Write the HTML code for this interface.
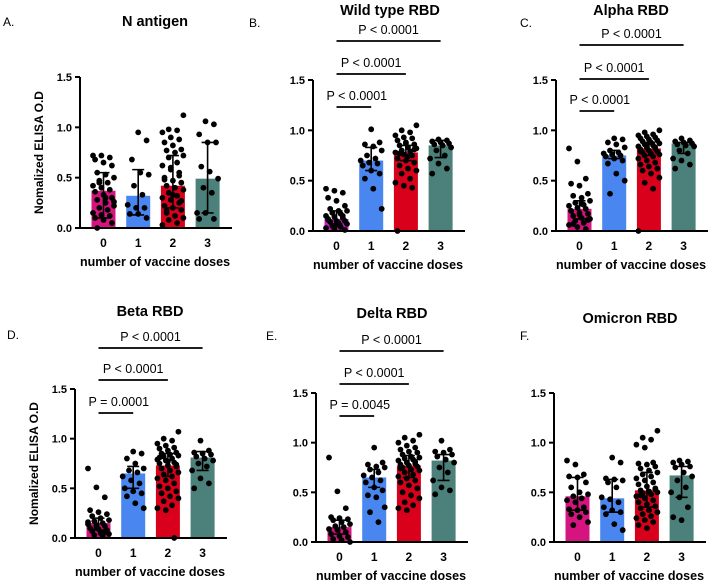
<!DOCTYPE html>
<html><head><meta charset="utf-8"><style>
html,body{margin:0;padding:0;background:#fff;}
svg{display:block;font-family:"Liberation Sans",Arial,sans-serif;}
</style></head><body>
<svg id="fig" width="708" height="580" viewBox="0 0 708 580"></svg>
<script>
const categories = ["0","1","2","3"];
const yTicks = [0, 0.5, 1.0, 1.5];
const yTickLabels = ["0.0","0.5","1.0","1.5"];
const colors = ["#d5147f","#4a86f0","#d9001b","#4b807b"];

const aMeans=[0.37,0.32,0.42,0.49], aLo=[0.10,0.13,0.20,0.15], aHi=[0.55,0.58,0.72,0.85];
const aPoints=[
[0.72,0.72,0.70,0.68,0.65,0.62,0.55,0.53,0.50,0.47,0.45,0.42,0.40,0.38,0.36,0.33,0.30,0.28,0.25,0.22,0.20,0.18,0.15,0.13,0.12,0.10,0.08,0.05,0.00,0.30,0.26,0.45],
[0.95,0.87,0.68,0.55,0.53,0.42,0.33,0.23,0.20,0.20,0.14,0.14,0.10],
[1.12,0.98,0.97,0.95,0.90,0.88,0.85,0.82,0.78,0.77,0.75,0.72,0.70,0.65,0.62,0.58,0.55,0.50,0.47,0.45,0.42,0.40,0.38,0.35,0.32,0.30,0.28,0.25,0.22,0.20,0.18,0.15,0.12,0.10,0.08,0.05,0.03,0.60,0.52,0.48,0.33,0.27,0.17],
[1.06,1.03,0.93,0.85,0.85,0.61,0.56,0.49,0.40,0.35,0.15,0.15,0.09,0.09]];

const bMeans=[0.12,0.70,0.78,0.85], bLo=[0.07,0.60,0.70,0.73], bHi=[0.20,0.83,0.85,0.90];
const bPoints=[
[0.42,0.40,0.38,0.33,0.30,0.25,0.22,0.20,0.20,0.18,0.17,0.15,0.14,0.13,0.12,0.10,0.10,0.09,0.08,0.07,0.05,0.04,0.03,0.02,0.15,0.11,0.06,0.01],
[1.01,0.88,0.86,0.84,0.80,0.75,0.72,0.70,0.68,0.67,0.65,0.60,0.57,0.52,0.42,0.22],
[1.05,1.00,0.98,0.95,0.93,0.92,0.90,0.88,0.86,0.85,0.83,0.82,0.80,0.79,0.78,0.76,0.75,0.72,0.70,0.68,0.65,0.62,0.60,0.57,0.52,0.48,0.45,0.43,0.00,0.87,0.81,0.77,0.74],
[0.91,0.90,0.89,0.88,0.87,0.86,0.85,0.83,0.80,0.75,0.72,0.67,0.62,0.57]];

const cMeans=[0.22,0.75,0.82,0.87], cLo=[0.12,0.72,0.75,0.77], cHi=[0.30,0.80,0.88,0.88];
const cPoints=[
[0.82,0.69,0.52,0.47,0.45,0.37,0.35,0.33,0.30,0.28,0.26,0.25,0.23,0.22,0.20,0.18,0.17,0.15,0.13,0.12,0.10,0.08,0.06,0.04,0.02,0.20,0.16,0.11,0.07,0.27],
[0.92,0.91,0.88,0.86,0.83,0.80,0.78,0.77,0.76,0.75,0.74,0.72,0.70,0.67,0.57,0.50,0.37],
[1.00,0.98,0.96,0.95,0.94,0.93,0.92,0.91,0.90,0.89,0.88,0.87,0.86,0.85,0.84,0.83,0.82,0.81,0.80,0.79,0.78,0.77,0.76,0.75,0.74,0.72,0.70,0.68,0.66,0.64,0.62,0.60,0.57,0.53,0.48,0.42,0.00,0.85,0.83,0.79],
[0.92,0.90,0.89,0.88,0.87,0.86,0.85,0.84,0.80,0.77,0.72,0.70,0.66,0.62]];

const dMeans=[0.15,0.65,0.73,0.81], dLo=[0.08,0.50,0.62,0.68], dHi=[0.20,0.72,0.85,0.87];
const dPoints=[
[0.70,0.51,0.41,0.28,0.26,0.24,0.22,0.20,0.18,0.17,0.15,0.14,0.13,0.12,0.10,0.09,0.08,0.07,0.05,0.04,0.03,0.02,0.16,0.11,0.06],
[0.87,0.85,0.80,0.75,0.70,0.68,0.66,0.62,0.58,0.55,0.50,0.47,0.45,0.42,0.35,0.30],
[1.07,1.00,0.98,0.95,0.93,0.91,0.90,0.88,0.86,0.85,0.84,0.83,0.82,0.80,0.79,0.78,0.76,0.75,0.73,0.72,0.70,0.68,0.66,0.64,0.62,0.60,0.58,0.55,0.52,0.50,0.47,0.45,0.42,0.40,0.37,0.33,0.30,0.28,0.00,0.81,0.77,0.74],
[0.98,0.88,0.86,0.85,0.84,0.82,0.80,0.78,0.75,0.72,0.68,0.60,0.55,0.50]];

const eMeans=[0.15,0.65,0.77,0.82], eLo=[0.08,0.55,0.65,0.62], eHi=[0.22,0.73,0.87,0.88];
const ePoints=[
[0.85,0.51,0.34,0.25,0.24,0.23,0.22,0.20,0.18,0.16,0.15,0.13,0.12,0.10,0.08,0.06,0.05,0.03,0.02,0.00],
[0.95,0.80,0.78,0.76,0.75,0.73,0.70,0.67,0.65,0.62,0.60,0.55,0.52,0.47,0.45,0.35,0.30,0.20],
[1.08,1.05,1.02,1.00,0.97,0.95,0.93,0.91,0.90,0.88,0.86,0.85,0.84,0.83,0.82,0.80,0.79,0.78,0.77,0.76,0.75,0.73,0.72,0.70,0.68,0.66,0.64,0.62,0.60,0.57,0.54,0.50,0.47,0.44,0.40,0.37,0.34,0.32,0.81,0.74],
[1.02,0.93,0.91,0.90,0.88,0.86,0.83,0.80,0.75,0.70,0.62,0.55,0.52,0.48]];

const fMeans=[0.46,0.44,0.52,0.67], fLo=[0.32,0.30,0.35,0.45], fHi=[0.65,0.63,0.70,0.76];
const fPoints=[
[0.82,0.78,0.68,0.66,0.65,0.60,0.55,0.50,0.48,0.46,0.44,0.42,0.40,0.35,0.33,0.32,0.30,0.28,0.25,0.20,0.17],
[0.85,0.80,0.64,0.63,0.62,0.60,0.55,0.45,0.43,0.40,0.35,0.32,0.30,0.28,0.18,0.12],
[1.12,1.05,1.03,0.98,0.95,0.80,0.79,0.78,0.76,0.74,0.72,0.70,0.68,0.66,0.64,0.62,0.60,0.58,0.56,0.54,0.52,0.51,0.50,0.49,0.48,0.46,0.44,0.42,0.40,0.38,0.36,0.34,0.32,0.30,0.28,0.26,0.24,0.22,0.20,0.17,0.14,0.53,0.47],
[0.82,0.81,0.80,0.78,0.76,0.75,0.70,0.66,0.62,0.55,0.50,0.45,0.35,0.25,0.22]];

const sigB=["P < 0.0001","P < 0.0001","P < 0.0001"];
const sigC=["P < 0.0001","P < 0.0001","P < 0.0001"];
const sigD=["P = 0.0001","P < 0.0001","P < 0.0001"];
const sigE=["P = 0.0045","P < 0.0001","P < 0.0001"];

const NS="http://www.w3.org/2000/svg";
const svg=document.getElementById("fig");
function mk(tag,attrs,parent){const e=document.createElementNS(NS,tag);for(const k in attrs)e.setAttribute(k,attrs[k]);(parent||svg).appendChild(e);return e;}

function panel(p){
  const g=mk("g",{});
  
  
  const ax=p.ax, y0=p.y0, ppu=(p.y0-p.y15)/1.5;
  const yScale=v=>y0-v*ppu;
  const xScale=i=>ax+23.5+i*34.7;
  // title + letter
  const t=mk("text",{x:p.tx,y:p.ty,"text-anchor":"middle","font-size":"14.5","font-weight":"bold"},g);t.textContent=p.title;
  
  
  const l=mk("text",{x:p.lx,y:p.ly,"font-size":"12"},g);l.textContent=p.letter;
  
  
  // bars
  p.means.forEach((m,i)=>{
    const r=mk("rect",{x:xScale(i)-12,y:yScale(m),width:24,height:y0-yScale(m),fill:(p.c0&&i==0)?p.c0:colors[i]},g);
    
    
  });
  // points
  p.points.forEach((arr,i)=>{
    arr.forEach((v,j)=>{
      const dx=(((j*37+i*5)%11)-5)*2.1;
      const c=mk("circle",{cx:xScale(i)+dx,cy:yScale(v),r:2.9,fill:"#000"},g);
      
      
    });
  });
  // error bars
  p.means.forEach((m,i)=>{
    const x=xScale(i);
    const e=mk("path",{d:`M${x},${yScale(p.lo[i])}V${yScale(p.hi[i])}M${x-6},${yScale(p.lo[i])}H${x+6}M${x-6},${yScale(p.hi[i])}H${x+6}`,stroke:"#000","stroke-width":1.6,fill:"none"},g);
    
    
  });
  // axes
  const xa=mk("path",{d:`M${ax},${y0}H${ax+152}`,stroke:"#000","stroke-width":2},g);
  
  
  const ya=mk("path",{d:`M${ax},${y0+1}V${p.y15}`,stroke:"#000","stroke-width":2},g);
  
  
  yTicks.forEach((v,i)=>{
    mk("path",{d:`M${ax-5},${yScale(v)}H${ax}`,stroke:"#000","stroke-width":2},g);
    const tl=mk("text",{x:ax-8,y:yScale(v)+4,"text-anchor":"end","font-size":"11","font-weight":"bold"},g);
    tl.textContent=yTickLabels[i];
    
    
  });
  categories.forEach((c,i)=>{
    const tl=mk("text",{x:xScale(i),y:y0+19,"text-anchor":"middle","font-size":"12","font-weight":"bold"},g);
    tl.textContent=c;
    
    
  });
  const xl=mk("text",{x:ax+75,y:y0+38,"text-anchor":"middle","font-size":"12.5","font-weight":"bold"},g);
  xl.textContent="number of vaccine doses";
  
  
  if(p.ylabel){
    const yc=(y0+p.y15)/2;
    const yl=mk("text",{x:0,y:0,transform:`translate(${ax-37},${yc}) rotate(-90)`,"text-anchor":"middle","font-size":"12","font-weight":"bold"},g);
    yl.textContent="Nomalized ELISA O.D";
    
    
  }
  if(p.sig){
    p.sig.forEach((s,k)=>{
      const ly=p.sigY[k];
      const sl=mk("path",{d:`M${xScale(0)},${ly}H${xScale(k+1)}`,stroke:"#000","stroke-width":1.8},g);
      
      
      const st=mk("text",{x:(xScale(0)+xScale(k+1))/2+(k==0?3:0),y:ly-7,"text-anchor":"middle","font-size":"12.5"},g);
      st.textContent=s;
      
      
    });
  }
}

panel({key:"a",ax:80,y0:228,y15:77,title:"N antigen",tx:155,ty:26,letter:"A.",lx:3,ly:26,means:aMeans,lo:aLo,hi:aHi,points:aPoints,ylabel:true});
panel({key:"b",ax:313,y0:231,y15:80,title:"Wild type RBD",tx:390,ty:15,letter:"B.",lx:249,ly:27,means:bMeans,lo:bLo,hi:bHi,points:bPoints,c0:"#d21bd0",sig:sigB,sigY:[107,74,41]});
panel({key:"c",ax:556,y0:231,y15:80,title:"Alpha RBD",tx:631,ty:15,letter:"C.",lx:520,ly:27,means:cMeans,lo:cLo,hi:cHi,points:cPoints,sig:cSig=sigC,sigY:[111,79,45]});
panel({key:"d",ax:75,y0:538,y15:389,title:"Beta RBD",tx:150,ty:316,letter:"D.",lx:7,ly:339,means:dMeans,lo:dLo,hi:dHi,points:dPoints,ylabel:true,sig:sigD,sigY:[413,380,348]});
panel({key:"e",ax:316,y0:542,y15:393,title:"Delta RBD",tx:392,ty:318,letter:"E.",lx:266,ly:340,means:eMeans,lo:eLo,hi:eHi,points:ePoints,sig:sigE,sigY:[416,384,351]});
panel({key:"f",ax:554,y0:542,y15:393,title:"Omicron RBD",tx:630,ty:323,letter:"F.",lx:520,ly:340,means:fMeans,lo:fLo,hi:fHi,points:fPoints});
</script>
</body></html>
